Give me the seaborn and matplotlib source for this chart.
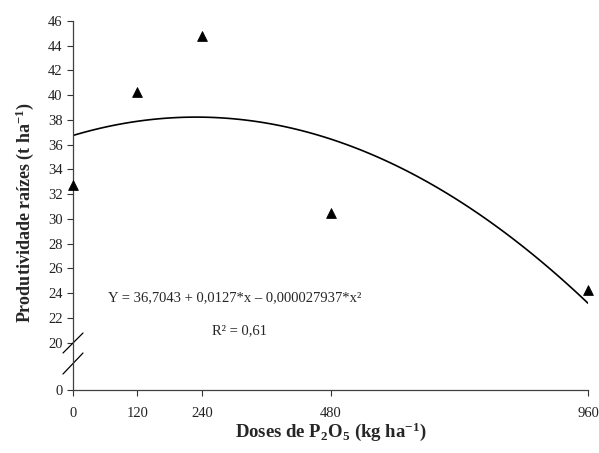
import numpy as np
import pandas as pd
import seaborn as sns
import matplotlib.pyplot as plt

# mean root yield by P2O5 dose
doses = [0, 120, 240, 480, 960]
produtividade = [32.72, 40.26, 44.82, 30.48, 24.23]
x_ticks = [0, 120, 240, 480, 960]
y_ticks = [0] + list(range(20, 47, 2))
equation = 'Y = 36,7043 + 0,0127*x \u2013 0,000027937*x\u00b2'
r2_text = 'R\u00b2 = 0,61'

df = pd.DataFrame({'dose': doses, 'prod': produtividade})

sns.set_style('ticks')
plt.rcParams['font.family'] = ['Liberation Serif', 'DejaVu Serif']
plt.rcParams['mathtext.fontset'] = 'custom'
plt.rcParams['mathtext.rm'] = 'Liberation Serif'
plt.rcParams['mathtext.bf'] = 'Liberation Serif:bold'
plt.rcParams['mathtext.it'] = 'Liberation Serif:italic'


# broken y axis: the 0-20 range is squeezed below the break
K = 0.1916


def fwd(y):
    y = np.asarray(y, dtype=float)
    return np.where(y >= 20, y, 20 - (20 - y) * K)


def inv(y):
    y = np.asarray(y, dtype=float)
    return np.where(y >= 20, y, 20 - (20 - y) / K)


fig = plt.figure(figsize=(5.99, 4.53), dpi=100)
ax = fig.add_axes([73 / 599, 63 / 453, 515 / 599, 369 / 453])
ax.set_yscale('function', functions=(fwd, inv))

# quadratic regression line (fitted by seaborn) + mean points
sns.regplot(data=df, x='dose', y='prod', order=2, ci=None, scatter=False,
            ax=ax, line_kws={'color': 'black', 'lw': 1.2})
sns.scatterplot(data=df, x='dose', y='prod', marker='^', s=50,
                color='black', edgecolor='black', ax=ax, zorder=5, clip_on=False)

ax.set_xlim(0, 960)
ax.set_ylim(0, 46)
ax.set_xticks(x_ticks)
ax.set_yticks(y_ticks)
ax.minorticks_off()
ax.tick_params(axis='both', direction='out', length=4, width=0.8,
               colors='#333333', labelsize=10.5, labelcolor='#222222')
ax.tick_params(axis='x', pad=8)
sns.despine(ax=ax)
for s in ['left', 'bottom']:
    ax.spines[s].set_color('#404040')
    ax.spines[s].set_linewidth(0.9)

# break marks
ax.plot([-10 / 515, 10 / 515], [(390 - 353) / 369, (390 - 333) / 369],
        transform=ax.transAxes, color='black', lw=0.9, clip_on=False)
ax.plot([-10 / 515, 10 / 515], [(390 - 374) / 369, (390 - 353) / 369],
        transform=ax.transAxes, color='black', lw=0.9, clip_on=False)

ax.text(302, 23.66, equation, ha='center', va='center', fontsize=10.5)
ax.text(311, 21.0, r2_text, ha='center', va='center', fontsize=10.5)

ax.set_xlabel(r'Doses de P$_\mathbf{2}$O$_\mathbf{5}$ (kg ha$^{\mathbf{-1}}$)',
              fontsize=13.5, fontweight='bold')
ax.set_ylabel(r'Produtividade raízes (t ha$^{\mathbf{-1}}$)',
              fontsize=13, fontweight='bold')
ax.xaxis.set_label_coords(0.5, -30 / 369)
ax.yaxis.set_label_coords(-37 / 515, 0.48)

fig.savefig('out.png', dpi=100)
